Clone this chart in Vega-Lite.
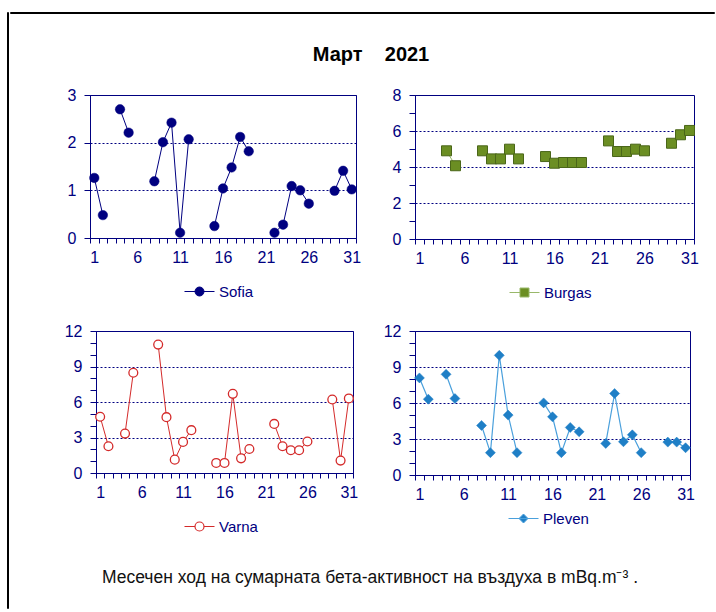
{
  "$schema": "https://vega.github.io/schema/vega-lite/v6.json",
  "padding": {"left": 6, "top": 11, "right": 0, "bottom": 0},
  "background": "white",
  "config": {
    "font": "Liberation Sans",
    "view": {"stroke": "#000080", "strokeWidth": 1},
    "axis": {
      "domainColor": "#000080", "domainWidth": 1,
      "tickColor": "#000080", "tickWidth": 1,
      "labelColor": "#000080", "labelFont": "Liberation Sans", "labelFontSize": 16,
      "gridColor": "#000080", "gridDash": [2, 2], "gridWidth": 1
    },
    "legend": {
      "labelFont": "Liberation Sans", "labelFontSize": 15, "labelColor": "#000080",
      "layout": {"bottom": {"anchor": "middle"}}
    }
  },
  "datasets": {
    "sofia": [
      {"day": 1, "value": 1.26}, {"day": 2, "value": 0.48}, {"day": 3, "value": null},
      {"day": 4, "value": 2.70}, {"day": 5, "value": 2.21}, {"day": 6, "value": null},
      {"day": 7, "value": null}, {"day": 8, "value": 1.19}, {"day": 9, "value": 2.01},
      {"day": 10, "value": 2.42}, {"day": 11, "value": 0.11}, {"day": 12, "value": 2.07},
      {"day": 13, "value": null}, {"day": 14, "value": null}, {"day": 15, "value": 0.25},
      {"day": 16, "value": 1.04}, {"day": 17, "value": 1.48}, {"day": 18, "value": 2.12},
      {"day": 19, "value": 1.82}, {"day": 20, "value": null}, {"day": 21, "value": null},
      {"day": 22, "value": 0.11}, {"day": 23, "value": 0.28}, {"day": 24, "value": 1.09},
      {"day": 25, "value": 1.00}, {"day": 26, "value": 0.72}, {"day": 27, "value": null},
      {"day": 28, "value": null}, {"day": 29, "value": 0.99}, {"day": 30, "value": 1.41},
      {"day": 31, "value": 1.02}
    ],
    "burgas": [
      {"day": 1, "value": null}, {"day": 2, "value": null}, {"day": 3, "value": null},
      {"day": 4, "value": 4.90}, {"day": 5, "value": 4.07}, {"day": 6, "value": null},
      {"day": 7, "value": null}, {"day": 8, "value": 4.90}, {"day": 9, "value": 4.45},
      {"day": 10, "value": 4.45}, {"day": 11, "value": 4.99}, {"day": 12, "value": 4.45},
      {"day": 13, "value": null}, {"day": 14, "value": null}, {"day": 15, "value": 4.58},
      {"day": 16, "value": 4.21}, {"day": 17, "value": 4.25}, {"day": 18, "value": 4.25},
      {"day": 19, "value": 4.25}, {"day": 20, "value": null}, {"day": 21, "value": null},
      {"day": 22, "value": 5.45}, {"day": 23, "value": 4.86}, {"day": 24, "value": 4.86},
      {"day": 25, "value": 4.99}, {"day": 26, "value": 4.90}, {"day": 27, "value": null},
      {"day": 28, "value": null}, {"day": 29, "value": 5.32}, {"day": 30, "value": 5.79},
      {"day": 31, "value": 6.03}
    ],
    "varna": [
      {"day": 1, "value": 4.75}, {"day": 2, "value": 2.26}, {"day": 3, "value": null},
      {"day": 4, "value": 3.33}, {"day": 5, "value": 8.47}, {"day": 6, "value": null},
      {"day": 7, "value": null}, {"day": 8, "value": 10.85}, {"day": 9, "value": 4.72},
      {"day": 10, "value": 1.13}, {"day": 11, "value": 2.63}, {"day": 12, "value": 3.62},
      {"day": 13, "value": null}, {"day": 14, "value": null}, {"day": 15, "value": 0.85},
      {"day": 16, "value": 0.85}, {"day": 17, "value": 6.69}, {"day": 18, "value": 1.24},
      {"day": 19, "value": 2.03}, {"day": 20, "value": null}, {"day": 21, "value": null},
      {"day": 22, "value": 4.15}, {"day": 23, "value": 2.26}, {"day": 24, "value": 1.92},
      {"day": 25, "value": 1.92}, {"day": 26, "value": 2.66}, {"day": 27, "value": null},
      {"day": 28, "value": null}, {"day": 29, "value": 6.21}, {"day": 30, "value": 1.05},
      {"day": 31, "value": 6.30}
    ],
    "pleven": [
      {"day": 1, "value": 8.09}, {"day": 2, "value": 6.32}, {"day": 3, "value": null},
      {"day": 4, "value": 8.39}, {"day": 5, "value": 6.37}, {"day": 6, "value": null},
      {"day": 7, "value": null}, {"day": 8, "value": 4.13}, {"day": 9, "value": 1.86},
      {"day": 10, "value": 9.97}, {"day": 11, "value": 4.99}, {"day": 12, "value": 1.86},
      {"day": 13, "value": null}, {"day": 14, "value": null}, {"day": 15, "value": 6.01},
      {"day": 16, "value": 4.85}, {"day": 17, "value": 1.86}, {"day": 18, "value": 3.96},
      {"day": 19, "value": 3.60}, {"day": 20, "value": null}, {"day": 21, "value": null},
      {"day": 22, "value": 2.63}, {"day": 23, "value": 6.79}, {"day": 24, "value": 2.77},
      {"day": 25, "value": 3.35}, {"day": 26, "value": 1.86}, {"day": 27, "value": null},
      {"day": 28, "value": null}, {"day": 29, "value": 2.74}, {"day": 30, "value": 2.74},
      {"day": 31, "value": 2.27}
    ]
  },
  "columns": 2,
  "spacing": 0,
  "resolve": {
    "scale": {"x": "independent", "y": "independent", "stroke": "independent"},
    "axis": {"x": "independent", "y": "independent"},
    "legend": {"stroke": "independent"}
  },
  "concat": [
    {
      "width": 1,
      "height": 596,
      "view": {"stroke": "black", "strokeWidth": 1},
      "data": {"values": [{}]},
      "mark": {"type": "text", "text": "", "fontSize": 1}
    },
    {
      "columns": 1,
      "spacing": 20,
      "resolve": {
        "scale": {"x": "independent", "y": "independent", "stroke": "independent"},
        "axis": {"x": "independent", "y": "independent"},
        "legend": {"stroke": "independent"}
      },
      "concat": [
        {
          "width": 704,
          "height": 1,
          "view": {"stroke": "black", "strokeWidth": 1},
          "data": {"values": [{}]},
          "mark": {"type": "text", "text": "", "fontSize": 1},
          "title": {
            "text": "Март\u00a0\u00a0\u00a0\u00a02021",
            "orient": "bottom", "anchor": "middle", "offset": 32, "dx": 9,
            "font": "Liberation Sans", "fontSize": 20, "fontWeight": "bold", "color": "black"
          }
        },
        {
          "spacing": 0,
          "resolve": {
            "scale": {"x": "independent", "y": "independent", "stroke": "independent"},
            "axis": {"x": "independent", "y": "independent"},
            "legend": {"stroke": "independent"}
          },
          "hconcat": [
            {
              "width": 45,
              "height": 1,
              "view": {"stroke": null},
              "data": {"values": [{}]},
              "mark": {"type": "text", "text": "", "fontSize": 1}
            },
            {
              "width": 266,
              "height": 143,
              "data": {"name": "sofia"},
              "encoding": {
                "x": {
                  "field": "day", "type": "ordinal",
                  "scale": {"type": "band", "paddingInner": 0, "paddingOuter": 0,
                    "domain": [1,2,3,4,5,6,7,8,9,10,11,12,13,14,15,16,17,18,19,20,21,22,23,24,25,26,27,28,29,30,31]},
                  "axis": {"title": null, "tickBand": "extent", "labelAngle": 0, "labelOverlap": false,
                    "labelExpr": "(datum.value - 1) % 5 === 0 ? datum.label : ''",
                    "tickSize": 5, "labelPadding": 6, "grid": false}
                },
                "y": {
                  "field": "value", "type": "quantitative",
                  "scale": {"domain": [0, 3], "nice": false},
                  "axis": {"title": null, "values": [0, 1, 2, 3], "grid": true, "tickSize": 6,
                    "labelPadding": 8, "minExtent": 34, "labelFlush": false, "labelOverlap": false}
                }
              },
              "layer": [
                {
                  "mark": {"type": "line", "strokeWidth": 1},
                  "encoding": {
                    "stroke": {
                      "datum": "Sofia",
                      "scale": {"range": ["#000080"]},
                      "legend": {
                        "title": null, "orient": "bottom", "offset": 19,
                        "symbolType": "M-3,0H3M0.9,0A0.9,0.9,0,1,1,-0.9,0A0.9,0.9,0,1,1,0.9,0Z",
                        "symbolSize": 100, "labelOffset": 12,
                        "encode": {"symbols": {"update": {
                          "fill": {"value": "#000080"}, "stroke": {"value": "#000080"},
                          "strokeWidth": {"value": 1}, "opacity": {"value": 1}}}}
                      }
                    }
                  }
                },
                {
                  "mark": {"type": "point", "shape": "circle", "filled": true, "size": 90,
                    "fill": "#000080", "stroke": "#000080", "strokeWidth": 0.5, "opacity": 1}
                }
              ]
            },
            {
              "width": 279,
              "height": 144,
              "data": {"name": "burgas"},
              "encoding": {
                "x": {
                  "field": "day", "type": "ordinal",
                  "scale": {"type": "band", "paddingInner": 0, "paddingOuter": 0,
                    "domain": [1,2,3,4,5,6,7,8,9,10,11,12,13,14,15,16,17,18,19,20,21,22,23,24,25,26,27,28,29,30,31]},
                  "axis": {"title": null, "tickBand": "extent", "labelAngle": 0, "labelOverlap": false,
                    "labelExpr": "(datum.value - 1) % 5 === 0 ? datum.label : ''",
                    "tickSize": 5, "labelPadding": 6, "grid": false}
                },
                "y": {
                  "field": "value", "type": "quantitative",
                  "scale": {"domain": [0, 8], "nice": false},
                  "axis": {"title": null, "values": [0, 1, 2, 3, 4, 5, 6, 7, 8], "grid": true,
                    "labelExpr": "datum.value % 2 === 0 ? datum.label : ''",
                    "gridOpacity": {"condition": {"test": "datum.value % 2 === 0", "value": 1}, "value": 0},
                    "tickSize": 6, "labelPadding": 8, "minExtent": 52, "labelFlush": false, "labelOverlap": false}
                }
              },
              "layer": [
                {
                  "mark": {"type": "line", "strokeWidth": 1},
                  "encoding": {
                    "stroke": {
                      "datum": "Burgas",
                      "scale": {"range": ["#99b86a"]},
                      "legend": {
                        "title": null, "orient": "bottom", "offset": 19,
                        "symbolType": "M-3,0H-0.9M0.9,0H3M-0.9,-0.9H0.9V0.9H-0.9Z",
                        "symbolSize": 100, "labelOffset": 12,
                        "encode": {"symbols": {"update": {
                          "fill": {"value": "#6b8e23"}, "stroke": {"value": "#4f6b1c"},
                          "strokeWidth": {"value": 1}, "opacity": {"value": 1}}}}
                      }
                    }
                  }
                },
                {
                  "mark": {"type": "point", "shape": "square", "filled": true, "size": 100,
                    "fill": "#6b8e23", "stroke": "#4a6619", "strokeWidth": 1, "opacity": 1}
                }
              ]
            }
          ]
        },
        {
          "spacing": 0,
          "resolve": {
            "scale": {"x": "independent", "y": "independent", "stroke": "independent"},
            "axis": {"x": "independent", "y": "independent"},
            "legend": {"stroke": "independent"}
          },
          "hconcat": [
            {
              "width": 51,
              "height": 1,
              "view": {"stroke": null},
              "data": {"values": [{}]},
              "mark": {"type": "text", "text": "", "fontSize": 1}
            },
            {
              "width": 257,
              "height": 142,
              "data": {"name": "varna"},
              "encoding": {
                "x": {
                  "field": "day", "type": "ordinal",
                  "scale": {"type": "band", "paddingInner": 0, "paddingOuter": 0,
                    "domain": [1,2,3,4,5,6,7,8,9,10,11,12,13,14,15,16,17,18,19,20,21,22,23,24,25,26,27,28,29,30,31]},
                  "axis": {"title": null, "tickBand": "extent", "labelAngle": 0, "labelOverlap": false,
                    "labelExpr": "(datum.value - 1) % 5 === 0 ? datum.label : ''",
                    "tickSize": 5, "labelPadding": 6, "grid": false}
                },
                "y": {
                  "field": "value", "type": "quantitative",
                  "scale": {"domain": [0, 12], "nice": false},
                  "axis": {"title": null, "values": [0, 1, 2, 3, 4, 5, 6, 7, 8, 9, 10, 11, 12], "grid": true,
                    "labelExpr": "datum.value % 3 === 0 ? datum.label : ''",
                    "gridOpacity": {"condition": {"test": "datum.value % 3 === 0", "value": 1}, "value": 0},
                    "tickSize": 6, "labelPadding": 8, "minExtent": 34, "labelFlush": false, "labelOverlap": false}
                }
              },
              "layer": [
                {
                  "mark": {"type": "line", "strokeWidth": 1},
                  "encoding": {
                    "stroke": {
                      "datum": "Varna",
                      "scale": {"range": ["#d42a2a"]},
                      "legend": {
                        "title": null, "orient": "bottom", "offset": 19,
                        "symbolType": "M-3,0H-0.9M0.9,0H3M0.9,0A0.9,0.9,0,1,1,-0.9,0A0.9,0.9,0,1,1,0.9,0Z",
                        "symbolSize": 100, "labelOffset": 12,
                        "encode": {"symbols": {"update": {
                          "fill": {"value": "white"}, "stroke": {"value": "#d42a2a"},
                          "strokeWidth": {"value": 1.2}, "opacity": {"value": 1}}}}
                      }
                    }
                  }
                },
                {
                  "mark": {"type": "point", "shape": "circle", "filled": false, "size": 78,
                    "fill": "white", "stroke": "#d42a2a", "strokeWidth": 1.3, "opacity": 1, "fillOpacity": 1}
                }
              ]
            },
            {
              "width": 275,
              "height": 144,
              "data": {"name": "pleven"},
              "encoding": {
                "x": {
                  "field": "day", "type": "ordinal",
                  "scale": {"type": "band", "paddingInner": 0, "paddingOuter": 0,
                    "domain": [1,2,3,4,5,6,7,8,9,10,11,12,13,14,15,16,17,18,19,20,21,22,23,24,25,26,27,28,29,30,31]},
                  "axis": {"title": null, "tickBand": "extent", "labelAngle": 0, "labelOverlap": false,
                    "labelExpr": "(datum.value - 1) % 5 === 0 ? datum.label : ''",
                    "tickSize": 5, "labelPadding": 6, "grid": false}
                },
                "y": {
                  "field": "value", "type": "quantitative",
                  "scale": {"domain": [0, 12], "nice": false},
                  "axis": {"title": null, "values": [0, 1, 2, 3, 4, 5, 6, 7, 8, 9, 10, 11, 12], "grid": true,
                    "labelExpr": "datum.value % 3 === 0 ? datum.label : ''",
                    "gridOpacity": {"condition": {"test": "datum.value % 3 === 0", "value": 1}, "value": 0},
                    "tickSize": 6, "labelPadding": 8, "minExtent": 55, "labelFlush": false, "labelOverlap": false}
                }
              },
              "layer": [
                {
                  "mark": {"type": "line", "strokeWidth": 1.2},
                  "encoding": {
                    "stroke": {
                      "datum": "Pleven",
                      "scale": {"range": ["#4aa0dc"]},
                      "legend": {
                        "title": null, "orient": "bottom", "offset": 9,
                        "symbolType": "M-3,0H3M0,-0.9L0.9,0L0,0.9L-0.9,0Z",
                        "symbolSize": 100, "labelOffset": 12,
                        "encode": {"symbols": {"update": {
                          "fill": {"value": "#1f7fc6"}, "stroke": {"value": "#2b8ad0"},
                          "strokeWidth": {"value": 1}, "opacity": {"value": 1}}}}
                      }
                    }
                  }
                },
                {
                  "mark": {"type": "point", "shape": "diamond", "filled": true, "size": 100,
                    "fill": "#1f7fc6", "stroke": "#1f7fc6", "strokeWidth": 0.5, "opacity": 1}
                }
              ]
            }
          ]
        },
        {
          "width": 704,
          "height": 1,
          "view": {"stroke": null},
          "data": {"values": [{}]},
          "mark": {"type": "text", "text": "", "fontSize": 1},
          "title": {
            "text": "Месечен ход на сумарната бета-активност на въздуха в mBq.m⁻³ .",
            "orient": "bottom", "anchor": "middle", "offset": 11, "dx": 8,
            "font": "Liberation Sans", "fontSize": 17.5, "fontWeight": "normal", "color": "#111111"
          }
        }
      ]
    }
  ]
}
